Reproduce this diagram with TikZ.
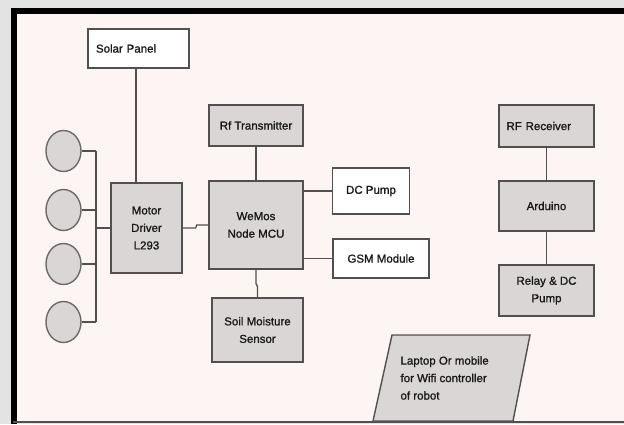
\documentclass[tikz,border=0pt]{standalone}
\usepackage{fontspec}
\setmainfont{Liberation Sans}
\newfontfamily\boxfont[FakeBold=1.2]{Liberation Sans}
\usepackage{tikz}
\usetikzlibrary{shapes.geometric, positioning, calc}
\usepackage{xcolor}
\definecolor{pagegrey}{HTML}{E3E3E3}
\definecolor{paper}{HTML}{FDF5F3}
\definecolor{boxgrey}{HTML}{D9D6D5}
\definecolor{edge}{HTML}{505050}

\begin{document}
\begin{tikzpicture}[x=1pt, y=-1pt,
    block/.style={rectangle, draw=edge, line width=1.4pt, fill=boxgrey, align=center, inner sep=2pt,
        font=\boxfont\fontsize{11.5}{17.5}\selectfont, text=black!90},
    plainblock/.style={block, fill=white},
    wheel/.style={ellipse, draw=edge!85, line width=1.4pt, fill=boxgrey, minimum width=35pt, minimum height=41pt},
    line/.style={draw=edge, line width=1.3pt}]
\useasboundingbox (0,0) rectangle (624,424);
% frame
\fill[pagegrey] (0,0) rectangle (624,424);
\fill[paper] (13,10) rectangle (624,422);
\draw[black, line width=6pt] (13.5,424) -- (13.5,10.5) -- (624,10.5);
\draw[edge, line width=2pt] (13,422) -- (624,422);
% blocks
\node[plainblock, minimum width=101pt, minimum height=39pt, text width=85pt, align=left] (solar) at (138.5,48.5) {Solar Panel};
\node[block, minimum width=71pt, minimum height=90pt] (motor) at (146.5,228) {Motor\\Driver\\L293};
\node[block, minimum width=94pt, minimum height=41pt] (rftx) at (256,125.5) {Rf Transmitter};
\node[block, minimum width=94pt, minimum height=88pt] (wemos) at (256,225) {WeMos\\Node MCU};
\node[block, minimum width=91pt, minimum height=64pt] (soil) at (257.5,330) {Soil Moisture\\Sensor};
\node[plainblock, minimum width=77pt, minimum height=46pt] (dcpump) at (371,191) {DC Pump};
\node[plainblock, minimum width=96pt, minimum height=39pt] (gsm) at (381,258.5) {GSM Module};
\node[block, minimum width=95pt, minimum height=42pt, text width=80pt, align=left] (rfrx) at (546.5,126) {RF Receiver};
\node[block, minimum width=95pt, minimum height=50pt] (arduino) at (546.5,206) {Arduino};
\node[block, minimum width=95pt, minimum height=51pt] (relay) at (546.5,290.5) {Relay \& DC\\Pump};
% wheels
\node[wheel] (m1) at (63.5,151) {};
\node[wheel] (m2) at (63.5,210) {};
\node[wheel] (m3) at (63.5,264) {};
\node[wheel] (m4) at (63.5,322) {};
% laptop
\draw[edge, line width=1.4pt, fill=boxgrey] (392,335) -- (530,335) -- (513,421) -- (373,421) -- cycle;
\node[align=left, font=\boxfont\fontsize{11.5}{17.5}\selectfont, text=black!90, anchor=west] (laptop) at (397,378) {Laptop Or mobile\\for Wifi controller\\of robot};
% connections
\coordinate (bustop) at (96,151);
\coordinate (busbot) at (96,322);
\draw[line] (bustop) -- (busbot);
\foreach \w in {m1,m2,m3,m4}
  \draw[line] (\w.east) -- (\w.east -| bustop);
\draw[line] (motor.west -| bustop) -- (motor.west);
\draw[line] ([xshift=-2.5pt]solar.south) -- ([xshift=-2.5pt]solar.south |- motor.north);
\draw[line] (motor.east) -- ++(13,0) -- ++(1,-3) -- (wemos.west);
\draw[line] (rftx) -- (wemos);
\draw[line] (wemos.south) -- ++(0,14) -- ++(1.5,3) -- (soil.north);
\draw[line] (dcpump.west -| wemos.east) -- (dcpump.west);
\draw[line] (gsm.west -| wemos.east) -- (gsm.west);
\draw[line] (rfrx) -- (arduino);
\draw[line] (arduino) -- (relay);
\end{tikzpicture}
\end{document}
